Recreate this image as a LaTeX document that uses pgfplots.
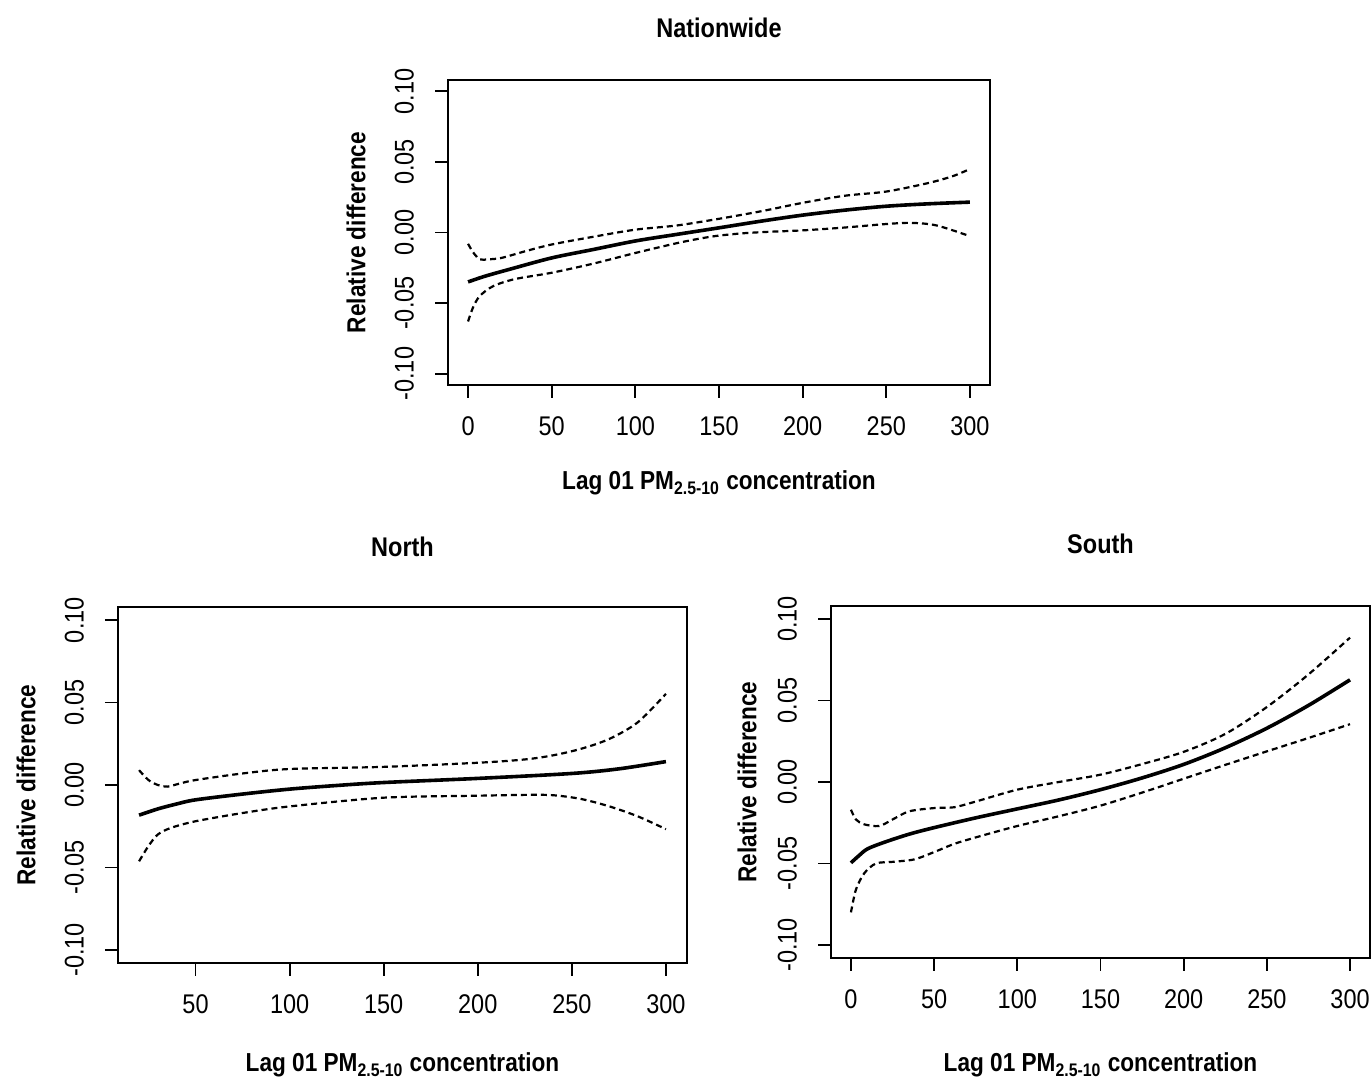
\documentclass[border=0pt]{standalone}
\usepackage{fontspec}
\setmainfont{Liberation Sans}[FakeStretch=0.87]
\usepackage{pgfplots}
\pgfplotsset{compat=1.18}
\usepackage{amsmath}

\pgfplotsset{
  rplot/.style={
    scale only axis,
    anchor=south west,
    axis line style={line width=0.9pt},
    every tick/.style={line width=0.9pt, black},
    tick align=outside,
    major tick length=6.5pt,
    xtick pos=bottom, ytick pos=left,
    ymin=-0.108, ymax=0.108,
    ytick={-0.1,-0.05,0,0.05,0.1},
    yticklabels={-0.10,-0.05,0.00,0.05,0.10},
    yticklabel style={rotate=90, anchor=south, font=\fontsize{13.5}{15}\selectfont},
    xticklabel style={font=\fontsize{13.5}{15}\selectfont},
    yticklabel shift=7pt, xticklabel shift=6pt,
    /pgf/number format/assume math mode=true,
    every axis x label/.style={at={([yshift=-49pt]axis description cs:0.5,0)}, anchor=center, font=\bfseries\fontsize{13}{15}\selectfont},
    every axis y label/.style={at={([xshift=-46pt]axis description cs:0,0.5)}, rotate=90, anchor=center, font=\bfseries\fontsize{13}{15}\selectfont},
    title style={at={([yshift=20pt]axis description cs:0.5,1)}, anchor=center, font=\bfseries\fontsize{13.5}{15}\selectfont},
    xlabel={Lag 01 PM$_{\text{2.5-10}}$ concentration},
    ylabel={Relative difference},
  },
  fit/.style={black, line width=1.8pt, smooth, tension=0.5},
  ci/.style={black, line width=1.1pt, dash pattern=on 3pt off 2pt, smooth, tension=0.5},
}

\begin{document}
\begin{tikzpicture}
\path[use as bounding box] (0,0) rectangle (686pt,541pt);

% Nationwide
\begin{axis}[rplot, at={(224pt,348.5pt)}, width=271pt, height=152.5pt,
  xmin=-12, xmax=312, xtick={0,50,...,300}, title={Nationwide}]
\addplot[fit] coordinates {(0,-0.035)(10,-0.031)(25,-0.026)(50,-0.018)(75,-0.012)(100,-0.006)(125,-0.0013)(150,0.0033)(175,0.008)(200,0.0123)(225,0.0158)(250,0.0186)(275,0.0203)(300,0.0215)};
\addplot[ci] coordinates {(0,-0.008)(3,-0.014)(7,-0.019)(12,-0.019)(20,-0.018)(35,-0.013)(50,-0.0085)(75,-0.003)(100,0.002)(125,0.005)(150,0.0097)(175,0.015)(200,0.021)(225,0.026)(250,0.029)(275,0.035)(290,0.040)(300,0.045)};
\addplot[ci] coordinates {(0,-0.063)(3,-0.053)(7,-0.045)(15,-0.038)(28,-0.033)(50,-0.0285)(75,-0.022)(100,-0.0145)(125,-0.0075)(140,-0.004)(150,-0.0022)(165,-0.0005)(180,0.0005)(200,0.0015)(225,0.0035)(250,0.006)(265,0.0068)(280,0.0050)(300,-0.0026)};
\end{axis}

% North
\begin{axis}[rplot, at={(59pt,59.5pt)}, width=284.5pt, height=178pt,
  xmin=8.8, xmax=311.2, xtick={50,100,...,300}, title={North},
  every axis x label/.append style={at={([yshift=-51pt]axis description cs:0.5,0)}},
  title style={at={([yshift=24pt]axis description cs:0.5,1)}}]
\addplot[fit] coordinates {(20,-0.0183)(30,-0.0145)(40,-0.0115)(50,-0.009)(75,-0.0055)(100,-0.0025)(125,-0.0003)(150,0.0015)(200,0.004)(250,0.007)(275,0.0098)(300,0.0142)};
\addplot[ci] coordinates {(20,0.009)(25,0.003)(30,0.000)(35,-0.001)(42,0.001)(50,0.003)(75,0.007)(100,0.0097)(150,0.011)(200,0.0135)(225,0.0155)(240,0.018)(255,0.022)(270,0.028)(285,0.038)(300,0.0553)};
\addplot[ci] coordinates {(20,-0.0463)(25,-0.037)(30,-0.030)(37,-0.026)(50,-0.022)(75,-0.017)(100,-0.013)(150,-0.0077)(200,-0.0065)(225,-0.006)(240,-0.0062)(255,-0.0085)(270,-0.013)(285,-0.019)(300,-0.0268)};
\end{axis}

% South
\begin{axis}[rplot, at={(415.5pt,62pt)}, width=269.5pt, height=176pt,
  xmin=-12, xmax=312, xtick={0,50,...,300}, title={South},
  every axis x label/.append style={at={([yshift=-53.5pt]axis description cs:0.5,0)}},
  every axis y label/.append style={at={([xshift=-42pt]axis description cs:0,0.5)}},
  title style={at={([yshift=25pt]axis description cs:0.5,1)}}]
\addplot[fit] coordinates {(0,-0.0496)(5,-0.045)(10,-0.041)(20,-0.037)(35,-0.032)(50,-0.028)(75,-0.022)(100,-0.0165)(125,-0.011)(150,-0.0047)(175,0.0025)(200,0.0108)(225,0.021)(250,0.033)(275,0.047)(300,0.0627)};
\addplot[ci] coordinates {(0,-0.017)(3,-0.023)(8,-0.026)(17,-0.027)(25,-0.023)(35,-0.018)(50,-0.016)(62,-0.0155)(75,-0.012)(100,-0.0047)(125,0.0)(150,0.0045)(175,0.011)(200,0.0185)(225,0.0295)(250,0.046)(275,0.066)(300,0.0886)};
\addplot[ci] coordinates {(0,-0.080)(3,-0.066)(8,-0.056)(15,-0.050)(25,-0.049)(38,-0.0475)(50,-0.043)(62,-0.038)(75,-0.034)(100,-0.027)(125,-0.021)(150,-0.0145)(175,-0.0065)(200,0.002)(225,0.0105)(250,0.0188)(275,0.027)(300,0.0355)};
\end{axis}
\end{tikzpicture}
\end{document}
